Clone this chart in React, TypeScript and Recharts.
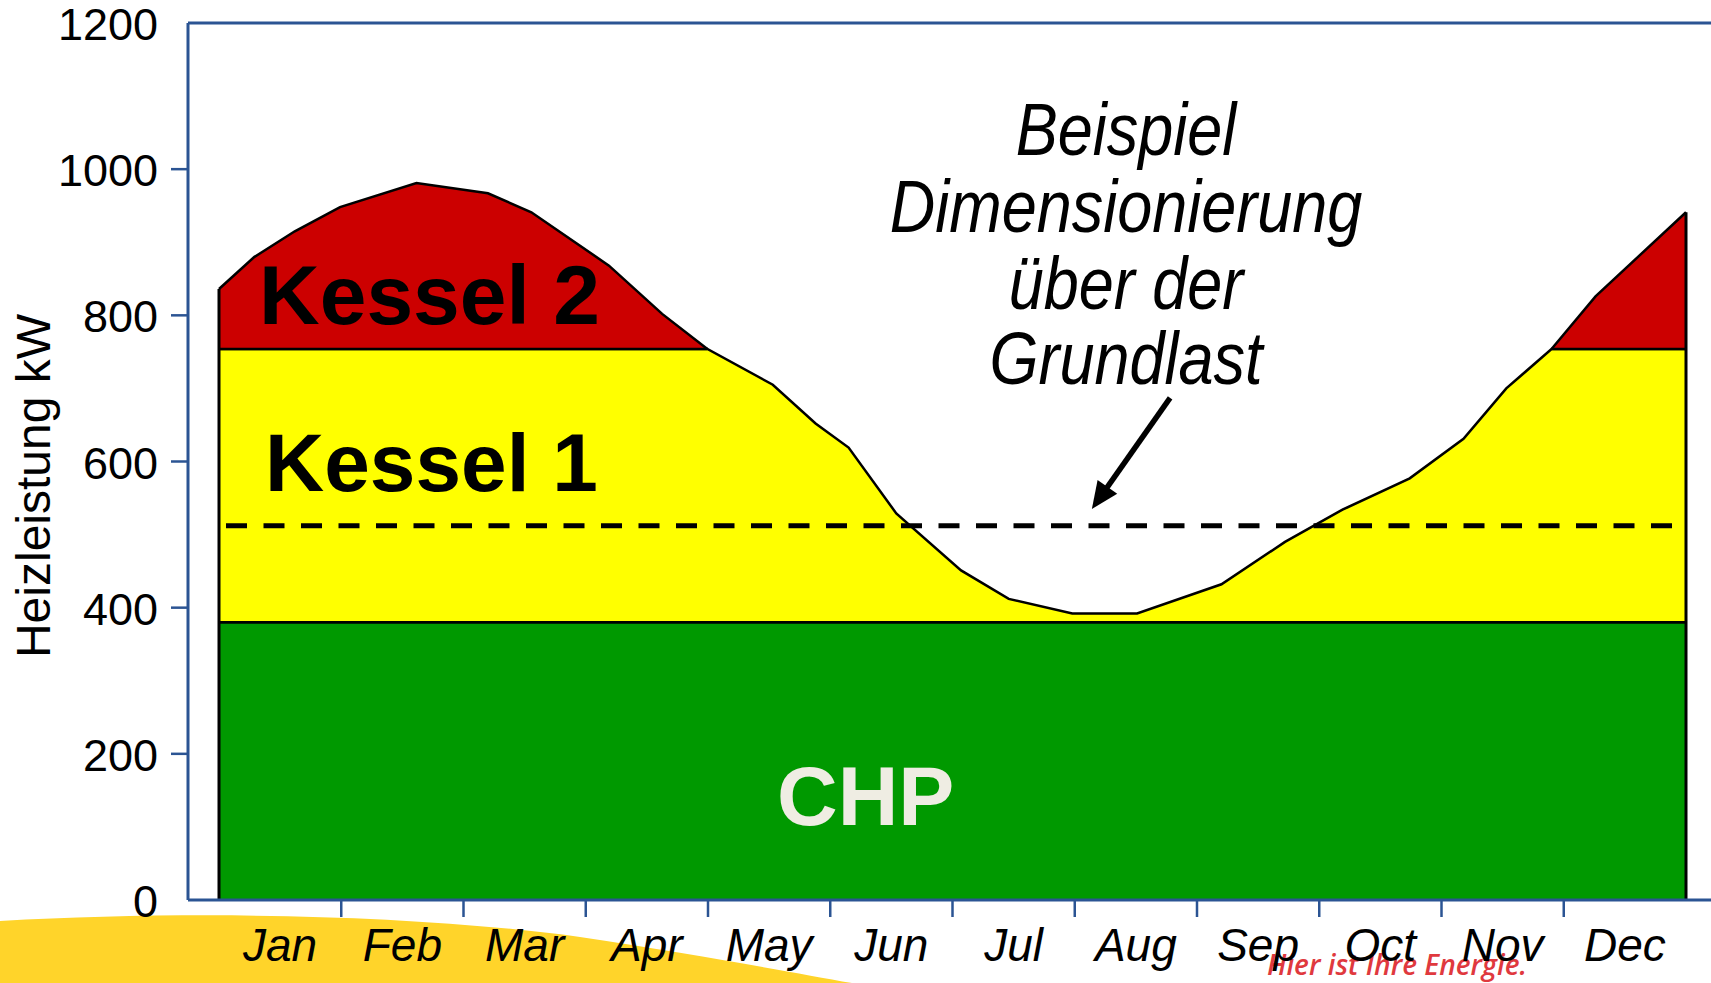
import React from "react";
import { AreaChart, Area, XAxis, YAxis, ReferenceLine } from "recharts";

// month labels (one per band) and band positions for labels / boundary ticks
const monthLabels = ["Jan", "Feb", "Mar", "Apr", "May", "Jun", "Jul", "Aug", "Sep", "Oct", "Nov", "Dec"];
const labelTicks = [0.5, 1.5, 2.5, 3.5, 4.5, 5.5, 6.5, 7.5, 8.5, 9.5, 10.5, 11.5];
const boundaryTicks = [1, 2, 3, 4, 5, 6, 7, 8, 9, 10, 11];
const yTicks = [0, 200, 400, 600, 800, 1000, 1200];

// heat demand curve: position in months (0 = start of Jan, 12 = end of Dec) and kW
const monthPos = [0, 0.29, 0.62, 0.99, 1.615, 2.2, 2.555, 3.19, 3.625, 3.995, 4.53, 4.88, 5.15, 5.54, 6.07, 6.46, 6.98, 7.51, 8.2, 8.72, 9.19, 9.74, 10.18, 10.53, 10.9, 11.26, 12];
const heatDemand = [836, 880, 915, 948, 981, 967, 941, 868, 802, 754, 705, 652, 619, 529, 451, 412, 392, 392, 432, 490, 534, 577, 631, 700, 754, 826, 941];

// plant capacities (kW)
const chpCapacity = 380;
const kessel1Limit = 754;
const grundlast = 512;

// arrow of the annotation (month position, kW)
const arrowFrom = { m: 7.78, kw: 687 };
const arrowTo = { m: 7.14, kw: 535 };

const AXIS = "#2B5493";
const FONT = '"Liberation Sans", Arial, Helvetica, sans-serif';

const rows = monthPos.map((m, i) => ({
  m,
  chp: chpCapacity,
  k1: [chpCapacity, Math.min(heatDemand[i], kessel1Limit)],
  k2: heatDemand[i] >= kessel1Limit ? [kessel1Limit, heatDemand[i]] : null,
}));

const X_TICK_LEN = 17;
const X_TICK_GAP = 11;
const Y_TICK_LEN = 17;
const Y_TICK_GAP = 13;

function MonthTick({ x, y, payload }: any) {
  const v = payload.value as number;
  if (Number.isInteger(v)) {
    return (
      <line
        x1={x}
        x2={x}
        y1={y - X_TICK_GAP - X_TICK_LEN}
        y2={y - X_TICK_GAP}
        stroke={AXIS}
        strokeWidth={2.5}
      />
    );
  }
  return (
    <text x={x} y={y} dy={33} textAnchor="middle" fontSize={46} fontStyle="italic" fontFamily={FONT} fill="#000">
      {monthLabels[Math.floor(v)]}
    </text>
  );
}

function PowerTick({ x, y, payload }: any) {
  const v = payload.value as number;
  return (
    <g>
      {v > 0 && v < 1200 && (
        <line x1={x + Y_TICK_GAP} x2={x + Y_TICK_GAP + Y_TICK_LEN} y1={y} y2={y} stroke={AXIS} strokeWidth={2.5} />
      )}
      <text x={x} y={y} dy={17} textAnchor="end" fontSize={45} fontFamily={FONT} fill="#000">
        {v}
      </text>
    </g>
  );
}

function ArrowShape(props: any) {
  const { x1, y1, x2, y2 } = props;
  const dx = x2 - x1;
  const dy = y2 - y1;
  const len = Math.sqrt(dx * dx + dy * dy) || 1;
  const ux = dx / len;
  const uy = dy / len;
  const headLen = 27;
  const headW = 12;
  const bx = x2 - ux * headLen;
  const by = y2 - uy * headLen;
  return (
    <g>
      <line x1={x1} y1={y1} x2={bx + ux * 2} y2={by + uy * 2} stroke="#000" strokeWidth={5.5} />
      <polygon
        points={`${x2},${y2} ${bx - uy * headW},${by + ux * headW} ${bx + uy * headW},${by - ux * headW}`}
        fill="#000"
      />
    </g>
  );
}

const bigLabel = { fontFamily: FONT, fontWeight: 700 } as const;
const noteLines = ["Beispiel", "Dimensionierung", "über der", "Grundlast"];
const noteBaselines = [155, 232, 309, 384];

export default function App() {
  const last = monthPos.length - 1;
  return (
    <div style={{ position: "absolute", left: 0, top: 0, width: 1711, height: 983, background: "#fff" }}>
      {/* slide background */}
      <svg width={1711} height={983} style={{ position: "absolute", left: 0, top: 0 }}>
        <path d="M0 921 C 200 910, 420 915, 580 937 C 700 955, 790 972, 852 983 L 0 983 Z" fill="#FFD42A" />
        <text
          x={1267}
          y={975}
          fontFamily='"Open Sans", sans-serif'
          fontWeight={600}
          fontStyle="italic"
          fontSize={28}
          fill="#E0393E"
          textLength={260}
          lengthAdjust="spacingAndGlyphs"
        >
          Hier ist Ihre Energie.
        </text>
      </svg>

      <div style={{ position: "absolute", left: 0, top: 0 }}>
        <AreaChart width={1711} height={983} data={rows} margin={{ top: 23, right: 0, bottom: 0, left: 0 }}>
          <XAxis
            dataKey="m"
            type="number"
            domain={[0, 12]}
            padding={{ left: 31, right: 25 }}
            ticks={[...labelTicks, ...boundaryTicks].sort((a, b) => a - b)}
            interval={0}
            tickSize={X_TICK_LEN}
            tickMargin={X_TICK_GAP}
            tickLine={false}
            tick={<MonthTick />}
            axisLine={{ stroke: AXIS, strokeWidth: 3 }}
            height={83}
          />
          <YAxis
            type="number"
            domain={[0, 1200]}
            ticks={yTicks}
            interval={0}
            width={188}
            tickSize={Y_TICK_LEN}
            tickMargin={Y_TICK_GAP}
            tickLine={false}
            tick={<PowerTick />}
            axisLine={{ stroke: AXIS, strokeWidth: 3 }}
          />
          <Area
            dataKey="chp"
            type="linear"
            fill="#009900"
            fillOpacity={1}
            stroke="#000"
            strokeWidth={2.5}
            dot={false}
            activeDot={false}
            isAnimationActive={false}
          />
          <Area
            dataKey="k1"
            type="linear"
            fill="#FFFF00"
            fillOpacity={1}
            stroke="#000"
            strokeWidth={2.5}
            dot={false}
            activeDot={false}
            isAnimationActive={false}
          />
          <Area
            dataKey="k2"
            type="linear"
            fill="#CC0000"
            fillOpacity={1}
            stroke="#000"
            strokeWidth={2.5}
            dot={false}
            activeDot={false}
            isAnimationActive={false}
          />
          <ReferenceLine y={1200} stroke={AXIS} strokeWidth={3} />
          <ReferenceLine
            segment={[{ x: monthPos[0], y: 0 }, { x: monthPos[0], y: heatDemand[0] }]}
            stroke="#000"
            strokeWidth={3}
          />
          <ReferenceLine
            segment={[{ x: monthPos[last], y: 0 }, { x: monthPos[last], y: heatDemand[last] }]}
            stroke="#000"
            strokeWidth={3}
          />
          <ReferenceLine
            segment={[{ x: monthPos[0], y: grundlast }, { x: monthPos[last], y: grundlast }]}
            stroke="#000"
            strokeWidth={5}
            strokeDasharray="21 16.5"
            strokeDashoffset={30.5}
          />
          <ReferenceLine
            segment={[{ x: arrowFrom.m, y: arrowFrom.kw }, { x: arrowTo.m, y: arrowTo.kw }]}
            shape={ArrowShape}
          />
        </AreaChart>
      </div>

      {/* labels drawn over the chart */}
      <svg width={1711} height={983} style={{ position: "absolute", left: 0, top: 0, pointerEvents: "none" }}>
        <text
          transform="translate(33,486) rotate(-90)"
          textAnchor="middle"
          dominantBaseline="central"
          fontFamily={FONT}
          fontSize={48}
          fill="#000"
        >
          Heizleistung kW
        </text>
        <text x={259} y={324} {...bigLabel} fontSize={84} fill="#000">Kessel 2</text>
        <text x={265} y={491} {...bigLabel} fontSize={82} fill="#000">Kessel 1</text>
        <text x={777} y={825} {...bigLabel} fontSize={84} fill="#EFEDE3">CHP</text>
        {noteLines.map((line, i) => (
          <text
            key={line}
            transform={`translate(1126,${noteBaselines[i]}) scale(1,1.17)`}
            textAnchor="middle"
            fontFamily={FONT}
            fontStyle="italic"
            fontSize={63}
            fill="#000"
          >
            {line}
          </text>
        ))}
      </svg>
    </div>
  );
}
